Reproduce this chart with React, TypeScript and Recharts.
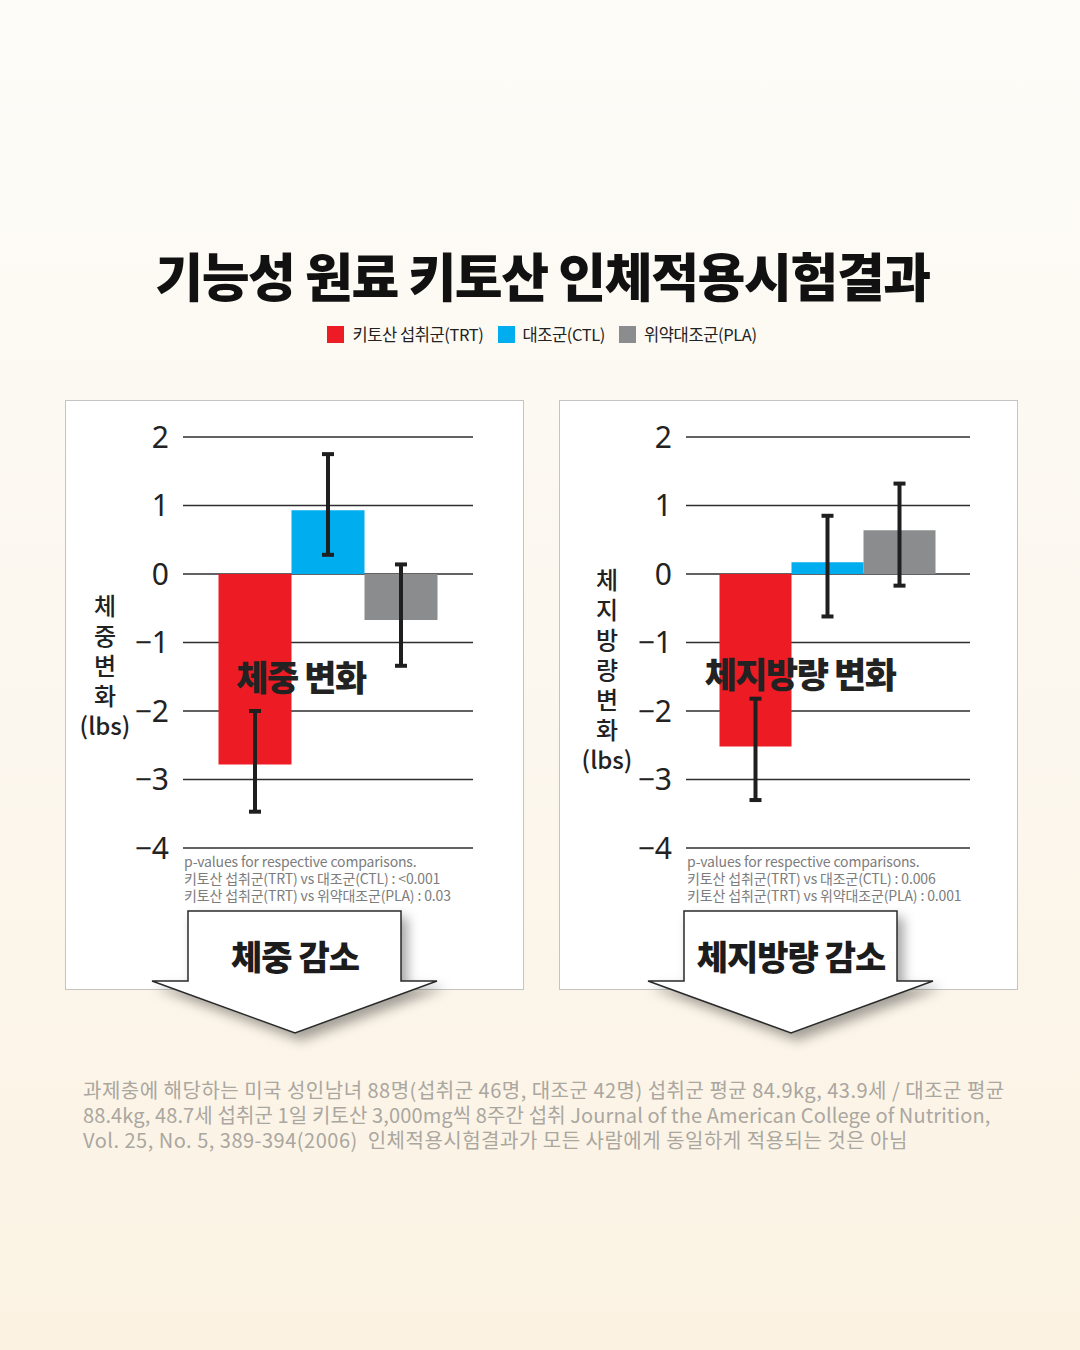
import React from "react";
import { BarChart, Bar, XAxis, YAxis, CartesianGrid, ErrorBar } from "recharts";

// Series (three study groups) shared by both panels.
const GROUPS = ["키토산 섭취군(TRT)", "대조군(CTL)", "위약대조군(PLA)"];
const COLORS = ["#ed1c24", "#00aeef", "#8b8c8d"];

// Mean change (lbs) and error [minus, plus].
const WEIGHT_MEAN = [-2.78, 0.93, -0.67];
const WEIGHT_ERR = [[0.69, 0.78], [0.65, 0.82], [0.67, 0.81]];
const FAT_MEAN = [-2.52, 0.17, 0.64];
const FAT_ERR = [[0.78, 0.7], [0.79, 0.68], [0.81, 0.68]];

const Y_TICKS = [-4, -3, -2, -1, 0, 1, 2];

const WEIGHT_NOTES = [
  "p-values for respective comparisons.",
  "키토산 섭취군(TRT) vs 대조군(CTL) : <0.001",
  "키토산 섭취군(TRT) vs 위약대조군(PLA) : 0.03",
];
const FAT_NOTES = [
  "p-values for respective comparisons.",
  "키토산 섭취군(TRT) vs 대조군(CTL) : 0.006",
  "키토산 섭취군(TRT) vs 위약대조군(PLA) : 0.001",
];

const SOURCE = [
  "과제충에 해당하는 미국 성인남녀 88명(섭취군 46명, 대조군 42명) 섭취군 평균 84.9kg, 43.9세 / 대조군 평균",
  "88.4kg, 48.7세 섭취군 1일 키토산 3,000mg씩 8주간 섭취 Journal of the American College of Nutrition,",
  "Vol. 25, No. 5, 389-394(2006)  인체적용시험결과가 모든 사람에게 동일하게 적용되는 것은 아님",
];
// per-line tracking so the three lines end where the original's do
const SOURCE_TRACKING = [0.5, 0.12, 0.5];

const KR = "'Noto Sans CJK KR', 'Noto Sans', sans-serif";

function toRow(name: string, mean: number[], err: number[][]) {
  const row: Record<string, unknown> = { name };
  mean.forEach((m, i) => {
    row[`s${i}`] = m;
    row[`e${i}`] = err[i];
  });
  return row;
}

const minus = (v: number) => (v < 0 ? `\u2212${Math.abs(v)}` : String(v));

function Panel({
  left, title, mean, err, axisChars, axisTop, yAxisWidth, marginRight, gap, labelX, labelY, notes, arrowText, arrowX,
}: {
  left: number; title: string; mean: number[]; err: number[][]; axisChars: string[]; axisTop: number;
  yAxisWidth: number; marginRight: number; gap: number; labelX: number; labelY: number;
  notes: string[]; arrowText: string; arrowX: number;
}) {
  const data = [toRow(title, mean, err)];
  const boxL = arrowX - 107, boxR = arrowX + 106;
  const pts = [
    [boxL, 911], [boxR, 911], [boxR, 981], [arrowX + 142, 981], [arrowX, 1033], [arrowX - 143, 981], [boxL, 981],
  ].map((p) => `${p[0] - (arrowX - 160)},${p[1] - 900}`).join(" ");
  return (
    <>
      <div style={{ position: "absolute", left, top: 400, width: 459, height: 590, background: "#fff", border: "1px solid #c6c4c1", boxSizing: "border-box" }} />
      <div style={{ position: "absolute", left, top: 400 }}>
        <BarChart width={460} height={591} data={data} barGap={0} barCategoryGap={gap}
          margin={{ top: 37, right: marginRight, left: 0, bottom: 143 }}>
          <CartesianGrid horizontal vertical={false} stroke="#2e2e2e" strokeWidth={1.6} />
          <XAxis dataKey="name" hide />
          <YAxis type="number" domain={[-4, 2]} ticks={Y_TICKS} allowDataOverflow width={yAxisWidth}
            axisLine={false} tickLine={false} tickSize={0} tickMargin={14} tickFormatter={minus}
            tick={{ fill: "#222", fontSize: 30, fontFamily: "'Noto Sans', sans-serif" }} />
          {GROUPS.map((g, i) => (
            <Bar key={g} dataKey={`s${i}`} name={g} fill={COLORS[i]} isAnimationActive={false}>
              <ErrorBar dataKey={`e${i}`} width={6} strokeWidth={4} stroke="#1f1f1f" isAnimationActive={false} />
            </Bar>
          ))}
        </BarChart>
      </div>
      {/* vertical axis title */}
      <div style={{ position: "absolute", left: left + (left > 300 ? 48 : 40), top: axisTop, width: 0, fontFamily: KR, fontSize: 24, lineHeight: "30px", color: "#222", fontWeight: 500 }}>
        {axisChars.map((c, i) => (
          <div key={i} style={{ position: "absolute", left: -40, width: 80, top: i * 30, textAlign: "center", whiteSpace: "nowrap" }}>{c}</div>
        ))}
      </div>
      <div style={{ position: "absolute", left: labelX - 150, top: labelY - 24, width: 300, textAlign: "center", fontFamily: KR, fontSize: 35, fontWeight: 900, color: "#222", letterSpacing: -1.5, lineHeight: "48px" }}>
        {title}
      </div>
      <div style={{ position: "absolute", left: left + yAxisWidth + 1, top: 853, fontFamily: KR, fontSize: 14, lineHeight: "17px", color: "#7c7c7c", letterSpacing: -0.15, whiteSpace: "nowrap" }}>
        {notes.map((n, i) => <div key={i}>{n}</div>)}
      </div>
      <svg width={320} height={150} style={{ position: "absolute", left: arrowX - 160, top: 900, overflow: "visible" }}>
        <defs>
          <filter id={`sh${left}`} x="-30%" y="-30%" width="160%" height="160%">
            <feDropShadow dx={6} dy={7} stdDeviation={6} floodColor="#000" floodOpacity={0.35} />
          </filter>
        </defs>
        <polygon points={pts} fill="#fff" stroke="#2a2a2a" strokeWidth={1.5} strokeLinejoin="miter" filter={`url(#sh${left})`} />
      </svg>
      <div style={{ position: "absolute", left: arrowX - 150, top: 933, width: 300, textAlign: "center", fontFamily: KR, fontSize: 34, fontWeight: 900, color: "#1c1c1c", letterSpacing: -1, lineHeight: "46px" }}>
        {arrowText}
      </div>
    </>
  );
}

export default function App() {
  return (
    <div style={{ position: "absolute", left: 0, top: 0, width: 1080, height: 1350, overflow: "hidden", background: "linear-gradient(180deg, #fdfcf8 0%, #fcf7ee 55%, #fbf2e2 100%)", fontFamily: KR }}>
      <div style={{ position: "absolute", left: 0, top: 242, width: 1085, textAlign: "center", fontSize: 52, fontWeight: 900, color: "#111", letterSpacing: -1.4, lineHeight: "66px" }}>
        기능성 원료 키토산 인체적용시험결과
      </div>
      <div style={{ position: "absolute", left: 0, top: 322, width: 1084, display: "flex", justifyContent: "center", alignItems: "center", gap: 14, fontSize: 16.5, color: "#222", letterSpacing: -0.4 }}>
        {GROUPS.map((g, i) => (
          <div key={g} style={{ display: "flex", alignItems: "center", gap: 8 }}>
            <span style={{ width: 17, height: 17, background: COLORS[i], display: "inline-block" }} />
            <span style={{ lineHeight: "24px" }}>{g}</span>
          </div>
        ))}
      </div>
      <Panel left={65} title="체중 변화" mean={WEIGHT_MEAN} err={WEIGHT_ERR}
        axisChars={["체", "중", "변", "화", "(lbs)"]} axisTop={590} yAxisWidth={118} marginRight={52} gap={35.5}
        labelX={301} labelY={676} notes={WEIGHT_NOTES} arrowText="체중 감소" arrowX={295} />
      <Panel left={559} title="체지방량 변화" mean={FAT_MEAN} err={FAT_ERR}
        axisChars={["체", "지", "방", "량", "변", "화", "(lbs)"]} axisTop={564} yAxisWidth={127} marginRight={49} gap={33.5}
        labelX={800} labelY={673} notes={FAT_NOTES} arrowText="체지방량 감소" arrowX={791} />
      <div style={{ position: "absolute", left: 83, top: 1077, fontSize: 20, lineHeight: "25px", color: "#aaa6a0", whiteSpace: "pre" }}>
        {SOURCE.map((s, i) => <div key={i} style={{ letterSpacing: SOURCE_TRACKING[i] }}>{s}</div>)}
      </div>
    </div>
  );
}
